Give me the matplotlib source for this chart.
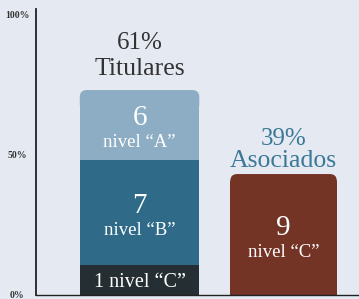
import matplotlib.pyplot as plt
from matplotlib.patches import FancyBboxPatch

plt.rcParams['font.family'] = ['Liberation Serif', 'DejaVu Serif']

# Data
groups = ['Titulares', 'Asociados']
shares = ['61%', '39%']
counts = [[1, 7, 6], [9]]                     # bottom to top
levels = [['nivel “C”', 'nivel “B”', 'nivel “A”'], ['nivel “C”']]
seg_heights = [[10.7, 37.5, 25.0], [43.2]]    # height on the 0-100% axis
seg_colors = [['#252f33', '#2f6b88', '#8dadc4'], ['#733325']]
header_colors = ['#333333', '#3b7896']
yticks = [0, 50, 100]
ytick_labels = ['0%', '50%', '100%']

# Layout
BG = '#e5eaf2'
BAR_WIDTHS = [0.83, 0.74]
HEADER_OFFSETS = [(15, 41), (7, 29)]   # px above bar top: (group name, share)
PX = 0.72                               # points per pixel at dpi 100

fig = plt.figure(figsize=(3.59, 2.99), dpi=100, facecolor=BG)
ax = fig.add_axes([36 / 359, 4 / 299, 323 / 359, 286 / 299], facecolor=BG)
ax.set_xlim(-0.719, 1.524)
ax.set_ylim(0, 286 / 2.8)

# corner radius in data units (about 7 px each way)
r_x = 7 / 144
r_y = 7 / 2.8

for i, heights in enumerate(seg_heights):
    w = BAR_WIDTHS[i]
    bottom = 0
    total = sum(heights)
    for j, h in enumerate(heights):
        is_top = j == len(heights) - 1
        draw_h = h - r_y if is_top else h
        ax.bar(i, draw_h, width=w, bottom=bottom, color=seg_colors[i][j],
               linewidth=0, zorder=2)
        if is_top:
            # rounded cap on top of the stack
            cap = FancyBboxPatch((i - w / 2, total - 3 * r_y), w, 3 * r_y,
                                 boxstyle=f'round,pad=0,rounding_size={r_x}',
                                 mutation_aspect=r_y / r_x,
                                 fc=seg_colors[i][j], ec='none', zorder=1.9)
            ax.add_patch(cap)

        center = bottom + h / 2
        n = counts[i][j]
        if h < 15:
            ax.annotate(f'{n} {levels[i][j]}', xy=(i, bottom), xytext=(0, 8 * PX),
                        textcoords='offset points', ha='center', va='baseline',
                        color='white', fontsize=14.5, zorder=3)
        else:
            ax.annotate(str(n), xy=(i, center), xytext=(0, 0),
                        textcoords='offset points', ha='center', va='baseline',
                        color='white', fontsize=21, zorder=3)
            ax.annotate(levels[i][j], xy=(i, center), xytext=(0, -22 * PX),
                        textcoords='offset points', ha='center', va='baseline',
                        color='white', fontsize=13.5, zorder=3)
        bottom += h

    name_off, share_off = HEADER_OFFSETS[i]
    ax.annotate(groups[i], xy=(i, total), xytext=(0, name_off * PX),
                textcoords='offset points', ha='center', va='baseline',
                color=header_colors[i], fontsize=18.5)
    ax.annotate(shares[i], xy=(i, total), xytext=(0, share_off * PX),
                textcoords='offset points', ha='center', va='baseline',
                color=header_colors[i], fontsize=18)

for side in ['top', 'right']:
    ax.spines[side].set_visible(False)
ax.spines['left'].set_color('#222222')
ax.spines['left'].set_linewidth(1.3)
ax.spines['bottom'].set_color('#222222')
ax.spines['bottom'].set_linewidth(1.0)

ax.set_xticks([])
ax.set_yticks(yticks, ytick_labels)
ax.tick_params(axis='y', length=0, pad=19 * PX, labelsize=7, labelcolor='#333333')
for lbl in ax.get_yticklabels():
    lbl.set_ha('center')
    lbl.set_fontweight('bold')

fig.savefig('out.png', dpi=100, facecolor=BG)
